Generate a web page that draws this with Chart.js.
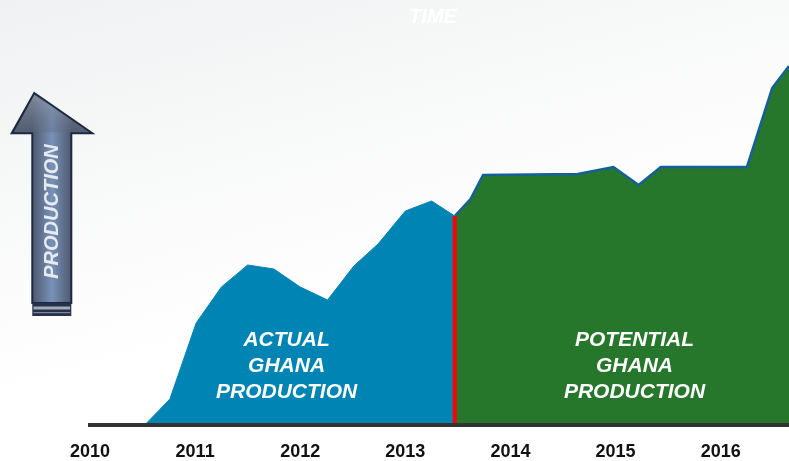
<!DOCTYPE html>
<html>
<head>
<meta charset="utf-8">
<script src="https://cdn.jsdelivr.net/npm/chart.js@4"></script>
<style>
  html, body { margin: 0; padding: 0; }
  body {
    width: 789px; height: 461px; overflow: hidden;
    background: linear-gradient(165deg, #f0f1f2 0%, #f7f8f8 28%, #fcfcfc 45%, #ffffff 60%);
  }
  #wrap { position: relative; width: 789px; height: 461px; }
</style>
</head>
<body>
<div id="wrap"><canvas id="prodChart"></canvas></div>
<script>
// x axis labels
const years = [2010, 2011, 2012, 2013, 2014, 2015, 2016];

// actual Ghana production (blue area)
const actualYears = [2010.54, 2010.76, 2011.01, 2011.25, 2011.50, 2011.75, 2012.00, 2012.26, 2012.51, 2012.74, 2013.00, 2013.25, 2013.47];
const actualValues = [0, 12, 50, 68, 79, 77, 68, 61.5, 78.5, 89.5, 106, 111, 103.5];

// potential Ghana production (green area)
const potentialYears = [2013.47, 2013.62, 2013.74, 2014.64, 2014.98, 2015.22, 2015.43, 2016.25, 2016.49, 2016.65];
const potentialValues = [103.5, 112, 124, 124.5, 128, 119, 128, 128, 167.5, 178.5];

// where actual turns into potential
const splitYear = 2013.47;

const toPoints = (xs, ys) => xs.map((x, i) => ({ x: x, y: ys[i] }));

const FONT = "'Liberation Sans', Arial, sans-serif";

// big PRODUCTION arrow, TIME caption and the area captions
const decor = {
  id: 'decor',
  afterDatasetsDraw(chart) {
    const ctx = chart.ctx;
    const xs = chart.scales.x, ys = chart.scales.y;
    ctx.save();

    // arrow shaft
    const sg = ctx.createLinearGradient(32, 0, 72, 0);
    sg.addColorStop(0, '#4d576c');
    sg.addColorStop(0.5, '#7792b8');
    sg.addColorStop(1, '#4d576c');
    ctx.fillStyle = sg;
    ctx.strokeStyle = '#1a2842';
    ctx.lineWidth = 2;
    ctx.lineJoin = 'miter';
    ctx.beginPath();
    ctx.moveTo(34.3, 93);
    ctx.lineTo(92.3, 133.3);
    ctx.lineTo(71.3, 133.3);
    ctx.lineTo(71.3, 303);
    ctx.lineTo(32.3, 303);
    ctx.lineTo(32.3, 133.3);
    ctx.lineTo(11.7, 133.3);
    ctx.closePath();
    ctx.fill();
    ctx.stroke();
    // head shading
    const hg = ctx.createLinearGradient(0, 94, 0, 133);
    hg.addColorStop(0, 'rgba(150,158,174,0.75)');
    hg.addColorStop(1, 'rgba(95,105,124,0.35)');
    ctx.fillStyle = hg;
    ctx.beginPath();
    ctx.moveTo(34.3, 95);
    ctx.lineTo(89.5, 132.3);
    ctx.lineTo(14.5, 132.3);
    ctx.closePath();
    ctx.fill();
    // foot stripes
    ctx.fillStyle = '#25324c';
    ctx.fillRect(32.3, 303, 39, 13);
    ctx.fillStyle = '#a6abb6';
    ctx.fillRect(33.5, 306.5, 36.6, 3);
    ctx.fillStyle = '#7f8899';
    ctx.fillRect(33.5, 312, 36.6, 1.2);

    ctx.translate(51.7, 211.5);
    ctx.rotate(-Math.PI / 2);
    ctx.fillStyle = '#e7eaee';
    ctx.font = 'italic bold 20px ' + FONT;
    ctx.textAlign = 'center';
    ctx.textBaseline = 'middle';
    ctx.fillText('PRODUCTION', 0, 1);
    ctx.setTransform(1, 0, 0, 1, 0, 0);

    // TIME caption (white on near-white, as in the original)
    ctx.fillStyle = '#ffffff';
    ctx.font = 'italic bold 20px ' + FONT;
    ctx.fillText('TIME', 433, 17);

    // area captions
    ctx.font = 'italic bold 21px ' + FONT;
    ctx.fillStyle = '#ffffff';
    const ax = xs.getPixelForValue(2011.87);
    ['ACTUAL', 'GHANA', 'PRODUCTION'].forEach((t, i) => {
      ctx.fillText(t, ax, ys.getPixelForValue(41.5 - 13 * i));
    });
    const px = xs.getPixelForValue(2015.18);
    ['POTENTIAL', 'GHANA', 'PRODUCTION'].forEach((t, i) => {
      ctx.fillText(t, px, ys.getPixelForValue(41.5 - 13 * i));
    });
    ctx.restore();
  }
};

new Chart(document.getElementById('prodChart'), {
  type: 'line',
  data: {
    datasets: [
      {
        label: 'Split',
        data: [{ x: splitYear, y: 0 }, { x: splitYear, y: actualValues[actualValues.length - 1] }],
        borderColor: '#ff0000',
        borderWidth: 4,
        pointRadius: 0,
        fill: false
      },
      {
        label: 'Actual',
        data: toPoints(actualYears, actualValues),
        borderColor: '#0084b4',
        borderWidth: 1,
        backgroundColor: '#0084b4',
        pointRadius: 0,
        tension: 0,
        fill: 'origin'
      },
      {
        label: 'Potential',
        data: toPoints(potentialYears, potentialValues),
        borderColor: '#14609b',
        borderWidth: 2.5,
        backgroundColor: '#26772c',
        pointRadius: 0,
        tension: 0,
        fill: 'origin'
      }
    ]
  },
  options: {
    responsive: true,
    maintainAspectRatio: false,
    animation: false,
    layout: { padding: { left: 90, right: 0, top: 23, bottom: 0 } },
    plugins: { legend: { display: false }, tooltip: { enabled: false } },
    scales: {
      x: {
        type: 'linear',
        min: 2010,
        max: 2016.65,
        afterBuildTicks: s => { s.ticks = years.map(v => ({ value: v })); },
        afterFit: s => { s.height = 36; },
        grid: { display: false, drawTicks: false },
        border: { display: true, color: '#333333', width: 4 },
        ticks: {
          padding: 16,
          color: '#111111',
          font: { family: "'Liberation Sans Narrow', 'Liberation Sans', Arial, sans-serif", weight: 'bold', size: 18 },
          callback: v => String(v)
        }
      },
      y: { display: false, min: -1, max: 200 }
    }
  },
  plugins: [decor]
});
</script>
</body>
</html>
